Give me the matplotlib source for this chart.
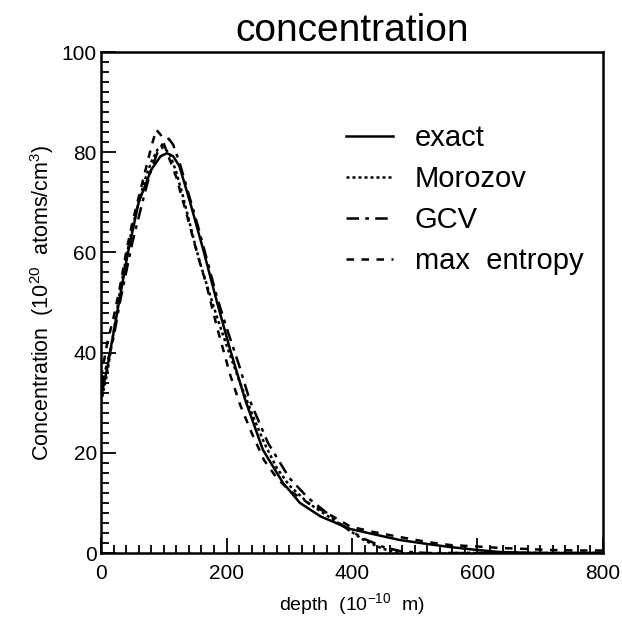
import numpy as np
import matplotlib.pyplot as plt
from matplotlib.ticker import MultipleLocator

plt.rcParams['font.family'] = ['Liberation Sans', 'DejaVu Sans']
plt.rcParams['mathtext.fontset'] = 'custom'
plt.rcParams['mathtext.rm'] = 'Liberation Sans'

# depth (1e-10 m) and concentration (1e20 atoms/cm^3)
exact_x = [0, 10, 20, 30, 43, 60, 80, 95, 105, 115, 125, 142, 163, 185, 206, 230, 258,
           290, 317, 350, 397, 440, 476, 520, 556, 600, 636, 700, 800]
exact_y = [31, 37, 44, 51, 60, 70, 76.5, 79.2, 79.8, 79.2, 77.2, 70, 60.5, 50, 40.5, 30.5, 20.6,
           14, 10, 7.3, 4.8, 3.6, 2.6, 1.8, 1.2, 0.6, 0.2, 0, 0]

moro_x = [0, 10, 20, 30, 40, 50, 60, 70, 80, 90, 100, 110, 120, 130, 140, 150, 160, 170,
          185, 200, 220, 240, 260, 280, 300, 330, 360, 390, 420, 450, 480, 520, 560, 800]
moro_y = [30, 36, 44, 52, 59, 65, 70, 74.5, 78, 80.5, 81, 79.5, 76, 71.5, 66.5, 61.5, 57, 53,
          47, 41.5, 34.5, 28, 22, 17, 13.5, 10, 7.5, 5, 2.5, 0.8, 0, -0.3, 0, 0]

gcv_x = [0, 10, 20, 30, 40, 50, 60, 70, 80, 90, 100, 108, 115, 125, 140, 155, 170, 185, 200,
         220, 237, 266, 300, 330, 360, 390, 420, 450, 480, 520, 800]
gcv_y = [33, 38, 43, 50, 56, 62, 67, 72, 76.5, 80, 82, 82.7, 81.5, 78, 71.5, 65, 58, 51, 45,
         37.5, 30.5, 22, 15, 11, 8, 5, 2.8, 1.2, 0.3, 0, 0]

ment_x = [0, 10, 20, 30, 40, 50, 60, 70, 80, 88, 95, 105, 120, 140, 155, 167, 185, 206, 222,
          240, 260, 280, 300, 330, 360, 397, 430, 476, 520, 556, 600, 636, 680, 716, 760, 800]
ment_y = [35, 42, 47, 53, 60, 66, 71, 76, 81, 84.5, 83.5, 80, 75, 66, 59, 54, 45, 35.5, 29.5,
          24, 18.5, 15, 12.5, 10, 8, 5.3, 4.3, 3.2, 2.2, 1.6, 1.3, 1.0, 0.8, 0.6, 0.5, 0.5]

fig = plt.figure(figsize=(6.22, 6.17), dpi=100)
ax = fig.add_axes([0.1624, 0.1037, 0.807, 0.812])

lw = 1.8
ax.plot(exact_x, exact_y, color='black', lw=lw, label='exact')
ax.plot(moro_x, moro_y, color='black', lw=lw, linestyle=(0, (1.2, 1.2)), label='Morozov')
ax.plot(gcv_x, gcv_y, color='black', lw=lw, linestyle=(0, (5, 2.5, 1.5, 2.5)), label='GCV')
ax.plot(ment_x, ment_y, color='black', lw=lw, linestyle=(0, (3, 3)), label='max  entropy')

ax.set_xlim(0, 800)
ax.set_ylim(0, 100)
ax.xaxis.set_major_locator(MultipleLocator(200))
ax.xaxis.set_minor_locator(MultipleLocator(20))
ax.yaxis.set_major_locator(MultipleLocator(20))
ax.yaxis.set_minor_locator(MultipleLocator(2))
ax.tick_params(which='both', direction='in', top=False, right=False, width=1.3,
               labelsize=15)
ax.tick_params(which='major', length=11)
ax.tick_params(which='minor', length=6)
ax.tick_params(axis='x', pad=8)
ax.tick_params(axis='y', pad=3)
for s in ax.spines.values():
    s.set_linewidth(1.8)

ax.set_title('concentration', fontsize=28, pad=8)
ax.set_xlabel(r'depth  (10$^{-10}$  m)', fontsize=14, labelpad=6)
ax.set_ylabel(r'Concentration  (10$^{20}$  atoms/cm$^{3}$)', fontsize=15.5, labelpad=4)

ax.legend(loc='upper left', bbox_to_anchor=(0.465, 0.88), frameon=False, fontsize=21,
          handlelength=1.6, handletextpad=0.75, labelspacing=0.45, borderaxespad=0)

fig.savefig('out.png', dpi=100)
